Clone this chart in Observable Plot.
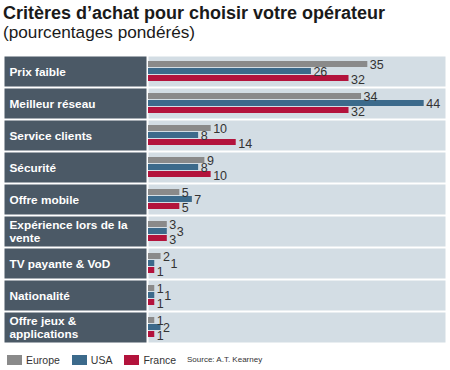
<!DOCTYPE html>
<html>
<head>
<meta charset="utf-8">
<script src="https://cdn.jsdelivr.net/npm/d3@7"></script>
<script src="https://cdn.jsdelivr.net/npm/@observablehq/plot@0.6"></script>
<style>
  html, body { margin: 0; padding: 0; background: #fff; width: 450px; height: 370px; overflow: hidden; }
  body { position: relative; font-family: "Liberation Sans", Arial, sans-serif; }
  #title { position: absolute; left: 3px; top: 4px; font-size: 18px; font-weight: bold; line-height: 1; color: #1a1a1a; white-space: nowrap; }
  #subtitle { position: absolute; left: 3px; top: 23.5px; font-size: 17.2px; line-height: 1; color: #1a1a1a; white-space: nowrap; }
  #chart { position: absolute; left: 0; top: 48px; }
  #legend { position: absolute; left: 7px; top: 350px; }
  #source { position: absolute; left: 187px; top: 355px; font-size: 8px; color: #333; white-space: nowrap; }
  .lg-swatches { min-height: 20px !important; margin: 0 !important; font-family: "Liberation Sans", Arial, sans-serif !important; font-size: 10.5px !important; color: #333 !important; }
  .lg-swatch { margin-right: 12px !important; }
  .lg-swatch > svg { margin-right: 4px !important; }
</style>
</head>
<body>
<div id="title">Critères d’achat pour choisir votre opérateur</div>
<div id="subtitle">(pourcentages pondérés)</div>
<div id="chart"></div>
<div id="legend"></div>
<div id="source">Source: A.T. Kearney</div>
<script>
const categories = [
  "Prix faible",
  "Meilleur réseau",
  "Service clients",
  "Sécurité",
  "Offre mobile",
  "Expérience lors de la\nvente",
  "TV payante & VoD",
  "Nationalité",
  "Offre jeux &\napplications"
];
const series = ["Europe", "USA", "France"];
const europe = [35, 34, 10, 9, 5, 3, 2, 1, 1];
const usa    = [26, 44, 8, 8, 7, 3, 1, 1, 2];
const france = [32, 32, 14, 10, 5, 3, 1, 1, 1];
const colors = ["#8a8a8a", "#3c6a8b", "#b3133c"];

const values = {Europe: europe, USA: usa, France: france};
const data = categories.flatMap((c, i) =>
  series.map(s => ({criterion: c, series: s, value: values[s][i], row: i}))
);

// label position: the middle (USA) label is nudged past its neighbours' labels
// when all values of a row are small and it is not the longest bar
function labelX(d) {
  if (d.series !== "USA") return d.value;
  const other = Math.max(europe[d.row], france[d.row]);
  if (d.value <= 3 && d.value <= other) return other + 1.2;
  return d.value;
}

const labelMark = (s, dy) => Plot.text(data.filter(d => d.series === s), {
  fy: "criterion", y: "series", x: labelX, text: "value",
  dx: 2, dy, textAnchor: "start", fontSize: 12.5, fill: "#333"
});

const chart = Plot.plot({
  width: 450,
  height: 300,
  marginLeft: 148,
  marginRight: 5,
  marginTop: 5,
  marginBottom: 2,
  style: {fontFamily: "'Liberation Sans', Arial, sans-serif", background: "white"},
  x: {domain: [0, 47.4], axis: null},
  y: {domain: series, axis: null, paddingInner: 0.15, paddingOuter: 0.5},
  fy: {domain: categories, axis: null, paddingInner: 0.06, paddingOuter: 0},
  color: {domain: series, range: colors},
  marks: [
    Plot.frame({fill: "#d3dde4", stroke: "none"}),
    Plot.frame({fill: "#4b5966", stroke: "none", insetLeft: -144, insetRight: 299}),
    Plot.text(categories, {
      fy: d => d, text: d => d, frameAnchor: "left", dx: -139,
      textAnchor: "start", fill: "white", fontWeight: "bold", fontSize: 11.8, lineHeight: 1.08
    }),
    Plot.barX(data, {fy: "criterion", y: "series", x: "value", fill: "series"}),
    labelMark("Europe", 0),
    labelMark("USA", 0),
    labelMark("France", 1.5)
  ]
});
document.getElementById("chart").appendChild(chart);

const legend = Plot.legend({
  color: {domain: series, range: colors},
  legend: "swatches",
  swatchWidth: 15,
  swatchHeight: 10,
  className: "lg"
});
document.getElementById("legend").appendChild(legend);
</script>
</body>
</html>
